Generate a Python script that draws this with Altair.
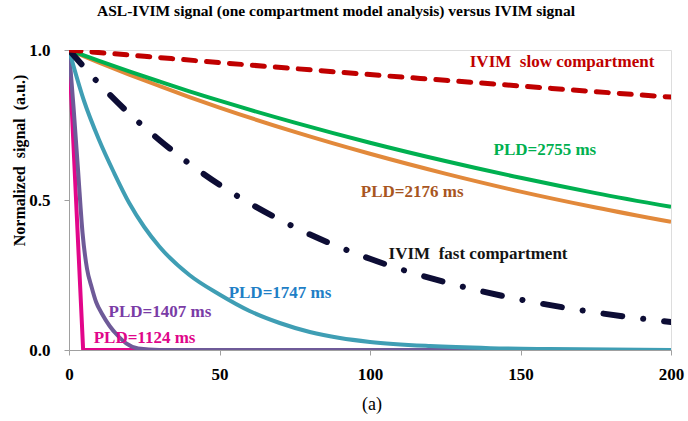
import altair as alt
import pandas as pd

# Signal curves (x in the units of the horizontal axis, y normalized signal)
slow_x = [0, 25, 50, 75, 100, 125, 150, 175, 200]
slow_y = [1.0, 0.979, 0.958, 0.938, 0.918, 0.899, 0.880, 0.861, 0.843]

fast_x = [0, 10, 20, 30, 40, 50, 75, 100, 125, 150, 175, 200]
fast_y = [1.0, 0.888, 0.788, 0.700, 0.621, 0.551, 0.409, 0.304, 0.226, 0.168, 0.125, 0.093]

pld2755_x = [0, 10, 20, 30, 40, 50, 75, 100, 125, 150, 175, 200]
pld2755_y = [1.0, 0.964, 0.929, 0.895, 0.862, 0.831, 0.758, 0.691, 0.630, 0.574, 0.523, 0.477]

pld2176_x = [0, 10, 20, 30, 40, 50, 75, 100, 125, 150, 175, 200]
pld2176_y = [1.0, 0.958, 0.918, 0.880, 0.843, 0.808, 0.727, 0.654, 0.588, 0.528, 0.475, 0.427]

pld1747_x = [0, 5, 10, 15, 20, 25, 30, 40, 50, 60, 70, 80, 90, 100, 120, 140, 160, 200]
pld1747_y = [1.0, 0.83, 0.70, 0.59, 0.49, 0.41, 0.345, 0.25, 0.185, 0.13, 0.09, 0.06, 0.04, 0.027, 0.013, 0.006, 0.003, 0.0]

pld1407_x = [0, 1.5, 3, 4.5, 6, 7.5, 9, 11, 13.5, 16, 19, 23, 30, 200]
pld1407_y = [1.0, 0.81, 0.60, 0.39, 0.27, 0.21, 0.16, 0.12, 0.08, 0.05, 0.022, 0.005, 0.0, 0.0]

pld1124_x = [0, 4.7, 200]
pld1124_y = [1.0, 0.0, 0.0]

# Curve labels
label_text = ["IVIM\u00a0\u00a0slow compartment", "PLD=2755 ms", "PLD=2176 ms",
              "IVIM\u00a0\u00a0fast compartment", "PLD=1747 ms", "PLD=1407 ms", "PLD=1124 ms"]
label_x = [163.8, 158.1, 114.0, 135.9, 70.1, 30.2, 25.1]
label_y = [0.96, 0.667, 0.527, 0.32, 0.19, 0.127, 0.04]
label_color = ["#C00000", "#00B050", "#A8561F", "#141414", "#1F7FC6", "#7A3CA6", "#E0068A"]

FONT = "Liberation Serif"

x_scale = alt.Scale(domain=[0, 200], nice=False)
y_scale = alt.Scale(domain=[0, 1], nice=False)

x_axis = alt.Axis(values=[0, 50, 100, 150, 200], title=None, grid=False,
                  labelFont=FONT, labelFontSize=17, labelFontWeight="bold",
                  labelColor="black", tickSize=5, labelPadding=11, labelFlush=False,
                  domainColor="#A0A0A0", tickColor="#A0A0A0")
y_axis = alt.Axis(values=[0, 0.5, 1.0], format=".1f", grid=False,
                  title="Normalized\u00a0\u00a0signal\u00a0\u00a0(a.u.)",
                  titleFont=FONT, titleFontSize=16, titleFontWeight="bold",
                  titleColor="black", titleAngle=270, titleX=-50, titleY=110,
                  titleAlign="center", titleBaseline="middle",
                  labelFont=FONT, labelFontSize=17, labelFontWeight="bold",
                  labelColor="black", tickSize=5, labelPadding=14, labelFlush=False,
                  domainColor="#A0A0A0", tickColor="#A0A0A0")


def curve(xs, ys, color, width, dash=None, interp="monotone"):
    df = pd.DataFrame({"x": xs, "y": ys})
    kw = dict(color=color, strokeWidth=width, interpolate=interp, clip=True)
    if dash is not None:
        kw["strokeDash"] = dash
        kw["strokeCap"] = "round"
    return alt.Chart(df).mark_line(**kw).encode(
        x=alt.X("x:Q", scale=x_scale, axis=x_axis),
        y=alt.Y("y:Q", scale=y_scale, axis=y_axis),
    )


layers = [
    curve(pld1124_x, pld1124_y, "#E2068A", 4, interp="linear"),
    curve(pld1407_x, pld1407_y, "#6E5A98", 4),
    curve(pld1747_x, pld1747_y, "#3F9EB4", 4),
    curve(pld2176_x, pld2176_y, "#E2893B", 4),
    curve(pld2755_x, pld2755_y, "#00B050", 4),
    curve(fast_x, fast_y, "#0D0D35", 6, dash=[19, 21, 0.1, 21]),
    curve(slow_x, slow_y, "#C00000", 5, dash=[12, 11]),
]

labels_df = pd.DataFrame({"t": label_text, "x": label_x, "y": label_y, "c": label_color})
labels = alt.Chart(labels_df).mark_text(
    font=FONT, fontSize=17, fontWeight="bold", align="center", baseline="middle"
).encode(
    x=alt.X("x:Q", scale=x_scale, axis=x_axis),
    y=alt.Y("y:Q", scale=y_scale, axis=y_axis),
    text="t:N",
    color=alt.Color("c:N", scale=None),
)

caption = alt.Chart(pd.DataFrame({"t": ["(a)"]})).mark_text(
    font=FONT, fontSize=18, align="center", baseline="middle", color="black"
).encode(text="t:N", x=alt.value(303), y=alt.value(355))

chart = alt.layer(*layers, labels, caption).properties(
    width=602,
    height=300,
    autosize=alt.AutoSizeParams(type="none"),
    padding={"left": 69, "top": 50, "right": 17, "bottom": 71},
    title=alt.TitleParams(
        "ASL-IVIM signal (one compartment model analysis) versus IVIM signal",
        font=FONT, fontSize=15.5, fontWeight="bold", color="black",
        anchor="middle", dx=-34, offset=22,
    ),
).configure_view(stroke=None).configure(background="white")

chart.save("out.html", embed_options={"renderer": "svg", "actions": False})
